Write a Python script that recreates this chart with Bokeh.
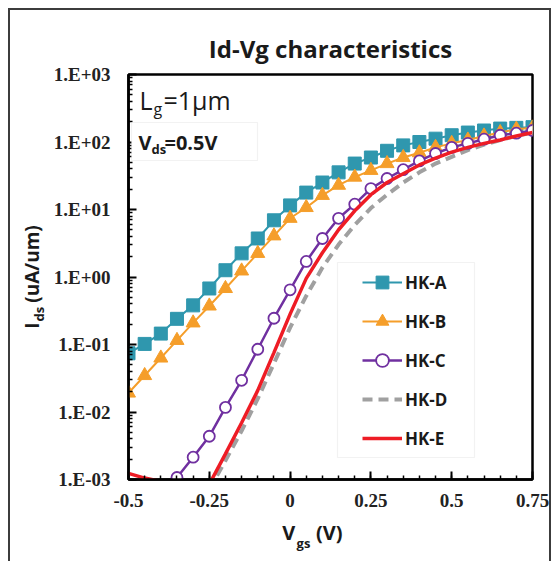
import math
from bokeh.plotting import figure
from bokeh.models import (Range1d, FixedTicker, CustomJSTickFormatter, Label,
                          BoxAnnotation, Legend, LegendItem, LinearAxis)
from bokeh.embed import file_html
from bokeh.resources import INLINE

# ---------------- data ----------------
vgs = [-0.50, -0.45, -0.40, -0.35, -0.30, -0.25, -0.20, -0.15, -0.10, -0.05,
       0.00, 0.05, 0.10, 0.15, 0.20, 0.25, 0.30, 0.35, 0.40, 0.45,
       0.50, 0.55, 0.60, 0.65, 0.70, 0.75]

hk_a = [0.0741, 0.102, 0.145, 0.240, 0.380, 0.676, 1.26, 2.24, 3.72, 6.92,
        11.5, 17.8, 25.1, 35.5, 47.9, 58.9, 74.1, 89.1, 100.0, 112.0,
        126.0, 138.0, 148.0, 158.0, 162.0, 166.0]

hk_b = [0.0191, 0.0347, 0.0631, 0.115, 0.209, 0.372, 0.676, 1.23, 2.24, 4.07,
        7.41, 10.7, 16.2, 22.9, 30.2, 38.0, 47.9, 58.9, 69.2, 83.2,
        95.5, 107.0, 123.0, 138.0, 155.0, 162.0]

vgs_c = [-0.35, -0.30, -0.25, -0.20, -0.15, -0.10, -0.05, 0.00, 0.05, 0.10,
         0.15, 0.20, 0.25, 0.30, 0.35, 0.40, 0.45, 0.50, 0.55, 0.60,
         0.65, 0.70, 0.75]
hk_c = [0.00107, 0.00214, 0.00437, 0.0117, 0.0295, 0.0851, 0.245, 0.646, 1.70, 3.72,
        7.41, 12.0, 20.4, 28.8, 38.9, 52.5, 67.6, 83.2, 95.5, 110.0,
        126.0, 135.0, 148.0]

vgs_d = [-0.25, -0.20, -0.15, -0.10, -0.05, 0.00, 0.05, 0.10, 0.15, 0.20,
         0.25, 0.30, 0.35, 0.40, 0.45, 0.50, 0.55, 0.60, 0.65, 0.70, 0.75]
hk_d = [0.000708, 0.00191, 0.00525, 0.0158, 0.0525, 0.178, 0.525, 1.38, 3.02, 5.89,
        10.5, 16.6, 25.1, 35.5, 47.9, 60.3, 75.9, 91.2, 107.0, 123.0, 138.0]

hk_e = [0.00123, 0.00105, 0.000933, 0.000759, 0.000631, 0.000851, 0.0024, 0.00692, 0.0209, 0.0759,
        0.282, 0.955, 2.29, 5.01, 9.55, 16.6, 25.1, 33.9, 45.7, 57.5,
        70.8, 83.2, 95.5, 107.0, 123.0, 138.0]

series_names = ["HK-A", "HK-B", "HK-C", "HK-D", "HK-E"]
x_ticks = [-0.5, -0.25, 0.0, 0.25, 0.5, 0.75]
x_tick_labels = ["-0.5", "-0.25", "0", "0.25", "0.5", "0.75"]
y_ticks = [1e-3, 1e-2, 1e-1, 1e0, 1e1, 1e2, 1e3]
y_tick_labels = ["1.E-03", "1.E-02", "1.E-01", "1.E+00", "1.E+01", "1.E+02", "1.E+03"]

# ---------------- layout constants ----------------
X0, X1 = -0.5, 0.75
Y0, Y1 = 1e-3, 1e3
M = 10                               # page offset of the figure (css margin)
FL, FT, FW, FH = 128, 74, 404, 405   # frame in page pixels
NB = "\u00a0"

def dx(px):
    return X0 + (px - FL) * (X1 - X0) / FW

def dy(py):
    return 10 ** (math.log10(Y1) - (py - FT) * (math.log10(Y1) - math.log10(Y0)) / FH)

W, H = 539, 551
p = figure(width=W, height=H, x_range=Range1d(X0, X1), y_range=Range1d(Y0, Y1),
           y_axis_type="log", output_backend="svg", toolbar_location=None,
           min_border_left=FL - M, min_border_top=FT - M,
           min_border_right=W - (FL - M) - FW, min_border_bottom=H - (FT - M) - FH)
p.styles = {"margin-left": f"{M}px", "margin-top": f"{M}px",
            "outline": "2px solid #3c3c3c"}
p.xgrid.visible = False
p.ygrid.visible = False
p.outline_line_color = "black"
p.outline_line_width = 2.5
p.background_fill_color = "white"
p.border_fill_color = "white"

# title
p.title.text = "Id-Vg characteristics"
p.title.align = "center"
p.title.text_font = "Open Sans"
p.title.text_font_style = "bold"
p.title.text_font_size = "24px"
p.title.text_color = "#1a1a1a"
p.title.standoff = 19

TEAL = "#2F97AE"
ORANGE = "#F59E2A"
PURPLE = "#7030A0"
GRAY = "#A0A0A0"
RED = "#EE1C25"

# ---------------- axes ----------------
xa = p.xaxis[0]
xa.ticker = FixedTicker(ticks=x_ticks,
                        minor_ticks=[round(-0.5 + 0.05 * i, 2) for i in range(26)])
xa.major_label_overrides = dict(zip(x_ticks, x_tick_labels))
ya = p.yaxis[0]
ya.ticker = FixedTicker(ticks=y_ticks,
                        minor_ticks=[m * 10 ** k for k in range(-3, 3) for m in range(2, 10)])
ya.formatter = CustomJSTickFormatter(args=dict(labels=y_tick_labels), code="""
    const e = Math.round(Math.log10(tick));
    return labels[e + 3];
""")
for ax in (xa, ya):
    ax.axis_line_color = "black"
    ax.axis_line_width = 2.5
    ax.major_tick_in = 8
    ax.major_tick_out = 0
    ax.minor_tick_in = 4
    ax.minor_tick_out = 0
    ax.major_tick_line_width = 2
    ax.minor_tick_line_width = 1.5
    ax.major_tick_line_color = "black"
    ax.minor_tick_line_color = "black"
    ax.major_label_text_font = "Liberation Serif"
    ax.major_label_text_font_style = "bold"
    ax.major_label_text_font_size = "19px"
    ax.major_label_text_color = "#222222"
ya.major_label_standoff = 18
xa.major_label_standoff = 14

def style_label(ax, size, standoff):
    ax.axis_label_text_font = "Open Sans"
    ax.axis_label_text_font_style = "bold"
    ax.axis_label_text_font_size = f"{size}px"
    ax.axis_label_text_color = "#1a1a1a"
    ax.axis_label_standoff = standoff

def label_axis(text, size, standoff):
    ax = LinearAxis(ticker=FixedTicker(ticks=[]), axis_line_color=None,
                    major_tick_line_color=None, minor_tick_line_color=None,
                    axis_label=text)
    style_label(ax, size, standoff)
    return ax

# x axis label: V_gs (V)
xa.axis_label = "V" + NB * 4 + "(V)" + NB * 7
style_label(xa, 20, 9)
p.add_layout(label_axis("gs" + NB * 16, 13, -15), "below")
# y axis label: I_ds (uA/um)
p.add_layout(label_axis("ds" + NB * 22, 13, 3), "left")
p.add_layout(label_axis("I" + NB * 4 + "(uA/um)", 19, -18), "left")

# ---------------- series ----------------
la = p.line(vgs, hk_a, line_color=TEAL, line_width=2)
sa = p.scatter(vgs, hk_a, marker="square", size=13, fill_color=TEAL, line_color=TEAL)
lb = p.line(vgs, hk_b, line_color=ORANGE, line_width=2)
sb = p.scatter(vgs, hk_b, marker="triangle", size=14, fill_color=ORANGE, line_color=ORANGE)
ld = p.line(vgs_d, hk_d, line_color=GRAY, line_width=4, line_dash="10 6")
lc = p.line(vgs_c, hk_c, line_color=PURPLE, line_width=2.5)
sc = p.scatter(vgs_c, hk_c, marker="circle", size=11, fill_color="white",
               line_color=PURPLE, line_width=1.8)
le = p.line(vgs, hk_e, line_color=RED, line_width=3.5)

# ---------------- legend ----------------
p.add_layout(BoxAnnotation(left=dx(337), right=dx(474), top=dy(262), bottom=dy(457),
                           fill_color="white", fill_alpha=1.0,
                           line_color="#d4d4d4", line_width=1.2))
legend = Legend(items=[LegendItem(label=series_names[0], renderers=[la, sa]),
                       LegendItem(label=series_names[1], renderers=[lb, sb]),
                       LegendItem(label=series_names[2], renderers=[lc, sc]),
                       LegendItem(label=series_names[3], renderers=[ld]),
                       LegendItem(label=series_names[4], renderers=[le])],
                location=(362 - FL, (FT + FH) - 454), padding=0, margin=0,
                spacing=7, glyph_width=40, glyph_height=32, label_height=32,
                label_standoff=3, border_line_alpha=0, background_fill_alpha=0,
                label_text_font="Open Sans", label_text_font_style="bold",
                label_text_font_size="17px", label_text_color="#1a1a1a")
p.add_layout(legend)

# ---------------- V_ds box ----------------
p.add_layout(BoxAnnotation(left=dx(131), right=dx(257), top=dy(122), bottom=dy(160),
                           fill_color="white", fill_alpha=1.0,
                           line_color="#d4d4d4", line_width=1.2))

def lab(px, py, text, size, bold=False, font="Open Sans"):
    # screen units measured from the frame's bottom-left corner
    p.add_layout(Label(x=px - FL, y=(FT + FH) - py, x_units="screen", y_units="screen",
                       text=text, text_font=font, text_font_size=f"{size}px",
                       text_font_style="bold" if bold else "normal",
                       text_align="left", text_baseline="middle", text_color="#1a1a1a"))

# L_g = 1um
lab(139, 99, "L", 25)
lab(153, 108, "g", 16)
lab(163, 99, "=1\u00b5m", 25)
# V_ds = 0.5V
lab(138, 142, "V", 20, bold=True)
lab(151, 148, "ds", 13, bold=True)
lab(164, 142, "=0.5V", 20, bold=True)

open("out.html", "w").write(file_html(p, INLINE))
